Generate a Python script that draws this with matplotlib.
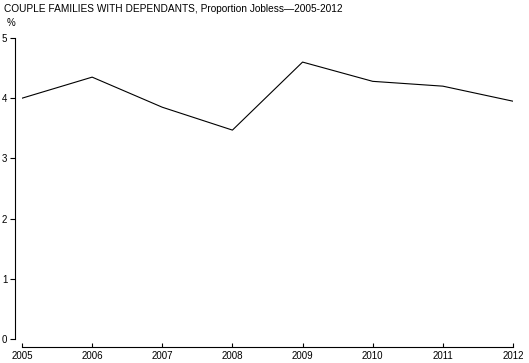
import matplotlib
matplotlib.use("Agg")
import matplotlib.pyplot as plt

years = [2005, 2006, 2007, 2008, 2009, 2010, 2011, 2012]
jobless = [4.0, 4.35, 3.85, 3.47, 4.6, 4.28, 4.2, 3.95]
y_ticks = [0, 1, 2, 3, 4, 5]

plt.rcParams["font.family"] = ["Liberation Sans", "DejaVu Sans"]

fig = plt.figure(figsize=(5.29, 3.63), dpi=100)
ax = fig.add_axes([22 / 529, 1 - 339 / 363, (513 - 22) / 529, (339 - 38) / 363])

ax.plot(years, jobless, color="black", linewidth=0.8)

ax.set_xlim(2005, 2012)
ax.set_ylim(0, 5)
ax.set_xticks(years)
ax.set_yticks(y_ticks)
ax.tick_params(axis="x", direction="in", length=3, width=0.8, labelsize=7, pad=2.5)
ax.tick_params(axis="y", direction="out", length=3.5, width=0.8, labelsize=7, pad=2)

for side in ["top", "right"]:
    ax.spines[side].set_visible(False)
ax.spines["left"].set_position(("outward", 5))
ax.spines["bottom"].set_position(("outward", 6))
ax.spines["left"].set_linewidth(0.8)
ax.spines["bottom"].set_linewidth(0.8)

fig.text(4 / 529, 1 - 9 / 363, "COUPLE FAMILIES WITH DEPENDANTS, Proportion Jobless\u20142005-2012",
         fontsize=7.3, va="center", ha="left")
fig.text(7 / 529, 1 - 23 / 363, "%", fontsize=7, va="center", ha="left")

fig.savefig("out.png", dpi=100)
plt.close(fig)
